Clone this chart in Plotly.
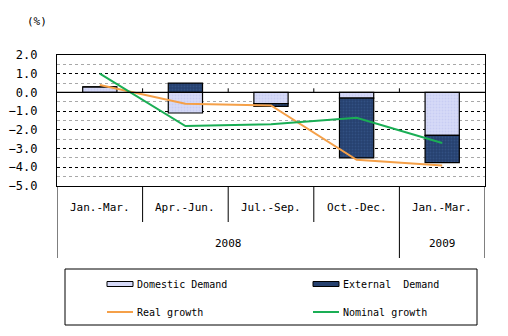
import plotly.graph_objects as go

# Quarterly GDP growth contributions (%)
quarters = ["Jan.-Mar.", "Apr.-Jun.", "Jul.-Sep.", "Oct.-Dec.", "Jan.-Mar."]
years = ["2008", "2009"]
year_spans = [(0, 3), (4, 4)]  # first/last quarter index of each year
domestic = [0.3, -1.1, -0.6, -0.3, -2.3]
external = [0.0, 0.5, -0.15, -3.2, -1.45]
real_growth = [0.4, -0.6, -0.7, -3.6, -3.9]
nominal_growth = [1.0, -1.8, -1.7, -1.35, -2.7]
y_ticks = [2, 1, 0, -1, -2, -3, -4, -5]

FONT = "DejaVu Sans Mono"
C_DOM = "#d6daf8"
C_EXT = "#26416f"
C_REAL = "#f5a048"
C_NOM = "#1aae55"

xs = list(range(len(quarters)))

fig = go.Figure()
fig.add_trace(go.Bar(
    x=xs, y=domestic, width=0.4, name="Domestic Demand",
    marker=dict(color=C_DOM, line=dict(color="black", width=1.2),
                pattern=dict(shape=".", fgcolor="#b9c0ee", bgcolor=C_DOM, size=3, solidity=0.3)),
))
fig.add_trace(go.Bar(
    x=xs, y=external, width=0.4, name="External  Demand",
    marker=dict(color=C_EXT, line=dict(color="black", width=1.2),
                pattern=dict(shape=".", fgcolor="#3d5f96", bgcolor=C_EXT, size=3, solidity=0.3)),
))
fig.add_trace(go.Scatter(x=xs, y=real_growth, mode="lines", name="Real growth",
                         line=dict(color=C_REAL, width=2)))
fig.add_trace(go.Scatter(x=xs, y=nominal_growth, mode="lines", name="Nominal growth",
                         line=dict(color=C_NOM, width=2)))

# plot area geometry in pixels
L, R, T, B = 57, 485, 55, 186
W, H = R - L, B - T


def px(x):
    return (x - L) / W


def py(y):
    return (B - y) / H


shapes = []
annotations = []
n = len(quarters)

# zero line with small upward ticks at quarter boundaries
shapes.append(dict(type="line", xref="x", yref="y", x0=-0.5, x1=n - 0.5, y0=0, y1=0,
                   line=dict(color="black", width=1.2)))
for i in range(1, n):
    shapes.append(dict(type="line", xref="x", yref="y", x0=i - 0.5, x1=i - 0.5,
                       y0=0, y1=0.22, line=dict(color="black", width=1)))

# category table below the plot
row1 = py(222)
row2 = py(258)
for i in range(n + 1):
    xb = i - 0.5
    is_year_edge = i == 0 or i == n or any(i == s for s, _ in year_spans)
    shapes.append(dict(type="line", xref="x", yref="paper", x0=xb, x1=xb,
                       y0=0, y1=row2 if is_year_edge else row1,
                       line=dict(color="black", width=1)))
for i, q in enumerate(quarters):
    annotations.append(dict(x=i, y=py(207), xref="x", yref="paper", text=q,
                            showarrow=False, yanchor="middle",
                            font=dict(family=FONT, size=11, color="black")))
for yr, (s, e) in zip(years, year_spans):
    annotations.append(dict(x=(s + e) / 2, y=py(243), xref="x", yref="paper", text=yr,
                            showarrow=False, yanchor="middle",
                            font=dict(family=FONT, size=11, color="black")))

# unit label
annotations.append(dict(x=px(37), y=py(22), xref="paper", yref="paper", text="(%)",
                        showarrow=False, xanchor="center", yanchor="middle",
                        font=dict(family=FONT, size=11, color="black")))

# legend box
shapes.append(dict(type="rect", xref="paper", yref="paper", x0=px(65), x1=px(477),
                   y0=py(269), y1=py(325), line=dict(color="black", width=1)))
legend_items = [
    ("Domestic Demand", "bar", C_DOM, 107, 284),
    ("External  Demand", "bar", C_EXT, 313, 284),
    ("Real growth", "line", C_REAL, 107, 312),
    ("Nominal growth", "line", C_NOM, 313, 312),
]
for label, kind, color, x0, yc in legend_items:
    if kind == "bar":
        shapes.append(dict(type="rect", xref="paper", yref="paper", x0=px(x0), x1=px(x0 + 26),
                           y0=py(yc - 2.5), y1=py(yc + 2.5), fillcolor=color,
                           line=dict(color="black", width=1)))
    else:
        shapes.append(dict(type="line", xref="paper", yref="paper", x0=px(x0), x1=px(x0 + 26),
                           y0=py(yc), y1=py(yc), line=dict(color=color, width=2)))
    annotations.append(dict(x=px(x0 + 28), y=py(yc), xref="paper", yref="paper", text=label,
                            showarrow=False, xanchor="left", yanchor="middle",
                            font=dict(family=FONT, size=10, color="black")))

fig.update_layout(
    width=508, height=336,
    margin=dict(l=L, r=508 - R, t=T, b=336 - B),
    paper_bgcolor="white", plot_bgcolor="white",
    barmode="relative", showlegend=False,
    font=dict(family=FONT, size=11, color="black"),
    xaxis=dict(range=[-0.5, n - 0.5], showticklabels=False, showgrid=False, zeroline=False,
               showline=True, linecolor="black", linewidth=1.2, mirror=True, ticks="",
               automargin=False),
    yaxis=dict(range=[-5, 2], tickvals=y_ticks, tickformat=".1f", showline=True,
               linecolor="black", linewidth=1.2, mirror=True, zeroline=False,
               gridcolor="black", griddash="dot", gridwidth=1, ticks="",
               ticklabelstandoff=16, automargin=False,
               minor=dict(dtick=0.5, showgrid=True, gridcolor="#a8a8a8", griddash="dot", gridwidth=1),
               tickfont=dict(family=FONT, size=12)),
    shapes=shapes, annotations=annotations,
)

fig.write_html("out.html")
